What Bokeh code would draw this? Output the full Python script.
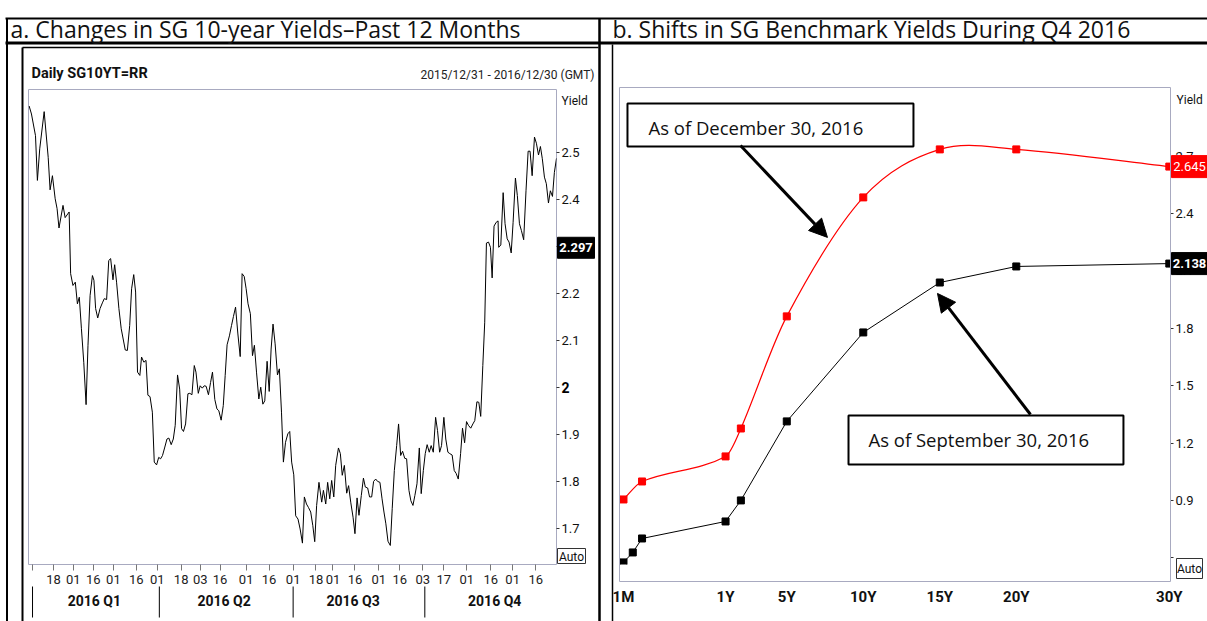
import numpy as np
from bokeh.plotting import figure
from bokeh.layouts import row
from bokeh.models import (Range1d, LinearAxis, FixedTicker, Label, BoxAnnotation,
                          Arrow, NormalHead, GridBox)
from bokeh.embed import file_html
from bokeh.resources import INLINE

NARROW = "Roboto"
BODY = "Open Sans"

# ---------------- panel a data: daily SG 10Y yield (%) ----------------
# trading-day number (0 = 31 Dec 2015) of each observation
sg10y_day = [
    0.0, 1.1, 3.0, 3.9, 5.0, 7.1, 9.0, 9.9, 11.0, 12.3,
    13.2, 14.1, 16.0, 17.0, 18.9, 19.6, 20.7, 21.8, 22.8, 23.7,
    24.7, 25.8, 26.9, 27.8, 28.8, 29.9, 30.6, 31.4, 32.4, 33.5,
    34.6, 35.5, 36.6, 37.6, 38.5, 39.6, 40.4, 41.3, 42.4, 43.5,
    45.4, 46.4, 47.5, 48.4, 49.4, 50.3, 51.2, 52.3, 53.1, 54.2,
    55.2, 56.1, 57.1, 58.2, 59.1, 60.2, 61.2, 62.1, 63.0, 64.1,
    65.1, 66.0, 67.1, 68.1, 69.0, 70.1, 71.1, 72.0, 72.9, 73.9,
    75.0, 75.9, 76.9, 78.0, 78.8, 79.9, 80.8, 81.8, 82.7, 83.6,
    84.7, 85.7, 86.6, 87.7, 88.7, 89.6, 90.7, 91.7, 92.6, 93.5,
    94.6, 95.6, 96.5, 97.5, 98.6, 99.7, 100.6, 101.6, 102.5, 103.4,
    104.5, 105.5, 106.4, 107.4, 108.5, 109.4, 110.4, 111.3, 112.4, 113.4,
    114.3, 115.2, 116.2, 117.3, 118.2, 119.2, 120.1, 121.1, 122.2, 123.1,
    124.0, 125.0, 125.9,
    127.0, 128.0, 129.1, 130.0, 131.0, 131.9, 133.0, 134.0, 134.9, 135.8,
    136.9, 138.2, 139.0, 140.1, 141.0, 142.0, 142.9, 143.9, 144.8, 146.1,
    147.0, 147.9, 148.9, 150.0, 150.9, 151.9, 153.0, 153.9, 154.9, 155.8,
    156.9, 157.9, 158.8, 159.9, 160.8, 161.8, 162.7, 163.7, 164.6, 165.7,
    166.7, 167.6, 168.5, 169.5, 170.6, 171.5, 172.5, 173.6, 174.5, 175.5,
    176.4, 177.4, 178.3, 179.4, 180.3, 181.3, 182.2, 183.2, 184.3, 185.2,
    186.2, 187.1, 188.0, 189.0, 189.9, 190.9, 192.0, 192.9, 193.9, 194.8,
    195.9, 196.8, 197.8, 198.7, 199.8, 200.8, 201.7, 202.7, 203.8, 204.7,
    205.7, 206.6, 207.5, 208.6, 209.6, 210.5, 211.5, 212.4, 213.3, 214.3,
    215.2, 216.0, 217.0, 217.9, 218.7, 219.6, 220.6, 221.5, 221.8, 222.8,
    223.9, 224.8, 225.8, 226.7, 227.7, 228.6, 229.7, 230.6, 231.6, 232.5,
    233.6, 234.7, 235.7, 236.6, 237.6, 238.7, 239.6, 240.6, 241.5, 242.4,
    243.4, 244.3, 245.3, 246.2, 247.2, 248.1, 249.1,
]
sg10y = [
    2.598, 2.581, 2.535, 2.440, 2.507, 2.586, 2.489, 2.420, 2.450, 2.401,
    2.380, 2.339, 2.387, 2.361, 2.373, 2.242, 2.217, 2.224, 2.178, 2.192,
    2.125, 2.054, 1.964, 2.090, 2.196, 2.238, 2.228, 2.168, 2.148, 2.168,
    2.180, 2.189, 2.187, 2.270, 2.274, 2.229, 2.261, 2.224, 2.168, 2.125,
    2.080, 2.079, 2.132, 2.210, 2.240, 2.203, 2.033, 2.026, 2.065, 2.054,
    2.058, 1.984, 1.981, 1.948, 1.842, 1.836, 1.852, 1.849, 1.856, 1.874,
    1.891, 1.893, 1.879, 1.891, 1.920, 2.027, 1.997, 1.913, 1.907, 1.923,
    1.987, 1.988, 1.985, 2.047, 2.033, 1.988, 2.004, 1.999, 2.004, 2.003,
    1.985, 2.011, 2.033, 1.975, 1.955, 1.951, 1.931, 1.962, 2.026, 2.091,
    2.110, 2.132, 2.151, 2.171, 2.114, 2.066, 2.242, 2.236, 2.210, 2.178,
    2.157, 2.068, 2.090, 2.033, 1.976, 2.001, 1.965, 1.972, 2.056, 1.992,
    2.082, 2.135, 2.093, 2.027, 2.040, 1.948, 1.842, 1.884, 1.902, 1.907,
    1.842, 1.815, 1.728,
    1.721, 1.700, 1.670, 1.768, 1.753, 1.746, 1.736, 1.707, 1.673, 1.750,
    1.799, 1.757, 1.782, 1.753, 1.799, 1.764, 1.803, 1.768, 1.835, 1.872,
    1.860, 1.814, 1.835, 1.776, 1.792, 1.757, 1.725, 1.690, 1.766, 1.729,
    1.771, 1.808, 1.789, 1.787, 1.768, 1.768, 1.801, 1.806, 1.801, 1.799,
    1.764, 1.736, 1.711, 1.674, 1.665, 1.743, 1.824, 1.877, 1.923, 1.856,
    1.865, 1.850, 1.849, 1.782, 1.760, 1.750, 1.771, 1.796, 1.872, 1.775,
    1.824, 1.860, 1.879, 1.863, 1.877, 1.863, 1.937, 1.909, 1.863, 1.877,
    1.937, 1.891, 1.863, 1.860, 1.857, 1.824, 1.818, 1.806, 1.860, 1.914,
    1.883, 1.928, 1.920, 1.914, 1.923, 1.930, 1.970, 1.969, 1.939, 2.047,
    2.139, 2.307, 2.309, 2.298, 2.233, 2.343, 2.351, 2.354, 2.298, 2.303,
    2.414, 2.348, 2.316, 2.309, 2.286, 2.351, 2.445, 2.408, 2.348, 2.334,
    2.314, 2.418, 2.502, 2.502, 2.450, 2.532, 2.519, 2.494, 2.512, 2.486,
    2.447, 2.433, 2.392, 2.418, 2.406, 2.457, 2.487,
]
# trading-day number of the date ticks and their labels
date_tick_idx = [11.5, 20.9, 30.3, 39.8, 50.6, 60.5, 71.8, 80.8, 90.2, 102.5,
                 113.3, 124.7, 135.5, 143.5, 153.9, 165.2, 175.1, 185.9, 195.9,
                 206.7, 218.1, 228.4, 239.3]
date_tick_labels = ["18", "01", "16", "01", "16", "01", "18", "03", "16", "01",
                    "16", "01", "18", "01", "16", "01", "16", "03", "17",
                    "01", "16", "01", "16"]
first_day_idx = [1.6]
quarter_mid_idx = [30.8, 92.1, 153.0, 219.9]
quarter_labels = ["2016 Q1", "2016 Q2", "2016 Q3", "2016 Q4"]
quarter_start_idx = [1.6, 61.5, 124.7, 186.9]
left_y_ticks = [1.7, 1.8, 1.9, 2.1, 2.2, 2.3, 2.4, 2.5]
left_bold_tick = 2.0
last_quote = 2.297
left_y_range = (1.6246, 2.633)
left_x_range = (-0.3, 249.1)

# ---------------- panel b data: SG benchmark curve (%) ----------------
sep_tenors = ["1M", "2M", "3M", "1Y", "2Y", "5Y", "10Y", "15Y", "20Y", "30Y"]
sep_yields = [0.576, 0.628, 0.701, 0.790, 0.900, 1.313, 1.778, 2.039, 2.123, 2.138]
dec_tenors = ["1M", "3M", "1Y", "2Y", "5Y", "10Y", "15Y", "20Y", "30Y"]
dec_yields = [0.905, 0.999, 1.130, 1.276, 1.862, 2.484, 2.735, 2.735, 2.645]
tenor_ticks = ["1M", "1Y", "5Y", "10Y", "15Y", "20Y", "30Y"]
right_y_ticks = [0.9, 1.2, 1.5, 1.8, 2.1, 2.4, 2.7]
right_minor = [0.6]
right_y_range = (0.565, 3.048)


def tenor_pos(t):
    """Chart's own tenor scale: monthly up to 1Y, compressed beyond."""
    n = float(t[:-1])
    yrs = n / 12.0 if t.endswith("M") else n
    return yrs * 12.0 if yrs <= 1 else 12.0 + (yrs - 1.0) * 1.649


# page geometry (px)
PW, PH = 1207, 621
LW = 600
RW = PW - LW
TOP, BOT = 89, 564                       # shared frame top / bottom (rows align)
L_LEFT, L_RIGHT = 28, 556
R_LEFT, R_RIGHT = 619, 1170
R_BOX = dict(left=619, right=1170, top=87, bottom=581)   # drawn plot box of panel b


def ly(v):
    lo, hi = left_y_range
    return TOP + (hi - v) / (hi - lo) * (BOT - TOP)


def ry(v):
    lo, hi = right_y_range
    return TOP + (hi - v) / (hi - lo) * (BOT - TOP)


def lx(i):
    lo, hi = left_x_range
    return L_LEFT + (i - lo) / (hi - lo) * (L_RIGHT - L_LEFT)


def axis_style(ax, size="13px", bold=False, color="#111"):
    ax.major_label_text_font = NARROW
    ax.major_label_text_font_size = size
    ax.major_label_text_color = color
    if bold:
        ax.major_label_text_font_style = "bold"


# ---------------- panel a ----------------
L = figure(width=LW, height=PH, title=None, x_range=Range1d(*left_x_range),
           y_range=Range1d(*left_y_range), x_axis_type=None, y_axis_type=None,
           output_backend="svg", toolbar_location=None,
           min_border_left=L_LEFT, min_border_right=LW - L_RIGHT,
           min_border_top=TOP, min_border_bottom=PH - BOT)
L.grid.visible = False
L.outline_line_color = "#a8aac0"
L.line(x=sg10y_day, y=sg10y, line_color="black", line_width=1)

ya = LinearAxis(ticker=FixedTicker(ticks=left_y_ticks, minor_ticks=[left_bold_tick]),
                axis_line_color=None, major_tick_in=0, major_tick_out=3, minor_tick_in=0,
                minor_tick_out=3, major_tick_line_color="#333", minor_tick_line_color="#333",
                major_label_standoff=2)
axis_style(ya)
L.add_layout(ya, "right")
xa = LinearAxis(ticker=FixedTicker(ticks=date_tick_idx, minor_ticks=first_day_idx),
                major_label_overrides=dict(zip(date_tick_idx, date_tick_labels)),
                axis_line_color=None, major_tick_in=0, major_tick_out=6, minor_tick_in=0,
                minor_tick_out=6, major_tick_line_color="#777", minor_tick_line_color="#777",
                major_label_standoff=4)
axis_style(xa, "13px", color="#222")
L.add_layout(xa, "below")
qa = LinearAxis(ticker=FixedTicker(ticks=quarter_mid_idx, minor_ticks=[]),
                major_label_overrides=dict(zip(quarter_mid_idx, quarter_labels)),
                axis_line_color=None, major_tick_in=0, major_tick_out=0, minor_tick_in=0,
                minor_tick_out=0, major_label_standoff=6)
axis_style(qa, "14px", bold=True)
L.add_layout(qa, "below")

# ---------------- panel b ----------------
R = figure(width=RW, height=PH, title=None, x_range=Range1d(0.57, 59.95),
           y_range=Range1d(*right_y_range), x_axis_type=None, y_axis_type=None,
           output_backend="svg", toolbar_location=None,
           min_border_left=R_LEFT - LW, min_border_right=PW - R_RIGHT,
           min_border_top=TOP, min_border_bottom=PH - BOT)
R.grid.visible = False
R.outline_line_color = None

sx = np.array([tenor_pos(t) for t in sep_tenors])
R.line(x=sx, y=sep_yields, line_color="black", line_width=1)
R.scatter(x=sx, y=sep_yields, marker="square", size=7, color="black")

dx = np.array([tenor_pos(t) for t in dec_tenors])
dy = np.array(dec_yields)
slope = np.empty_like(dy)
slope[0] = (dy[1] - dy[0]) / (dx[1] - dx[0])
slope[-1] = (dy[-1] - dy[-2]) / (dx[-1] - dx[-2])
slope[1:-1] = (dy[2:] - dy[:-2]) / (dx[2:] - dx[:-2])
h = (dx[1:] - dx[:-1]) / 3.0
R.bezier(x0=dx[:-1], y0=dy[:-1], x1=dx[1:], y1=dy[1:],
         cx0=dx[:-1] + h, cy0=dy[:-1] + slope[:-1] * h,
         cx1=dx[1:] - h, cy1=dy[1:] - slope[1:] * h,
         line_color="red", line_width=1.2)
R.scatter(x=dx, y=dy, marker="square", size=7, color="red")

tick_pos = [tenor_pos(t) for t in tenor_ticks]
rxa = LinearAxis(ticker=FixedTicker(ticks=tick_pos),
                 major_label_overrides=dict(zip(tick_pos, tenor_ticks)),
                 axis_line_color=None, major_tick_in=0, major_tick_out=0,
                 major_label_standoff=23)
axis_style(rxa, "15px", bold=True)
R.add_layout(rxa, "below")
rya = LinearAxis(ticker=FixedTicker(ticks=right_y_ticks, minor_ticks=right_minor),
                 axis_line_color=None, major_tick_in=0, major_tick_out=3, minor_tick_in=0,
                 minor_tick_out=3, major_tick_line_color="#333", minor_tick_line_color="#333",
                 major_label_standoff=2)
axis_style(rya)
R.add_layout(rya, "right")

# callouts
for left, right, bottom, top in [(1.43, 32.25, 2.750, 2.975), (25.25, 54.88, 1.088, 1.344)]:
    R.add_layout(BoxAnnotation(left=left, right=right, bottom=bottom, top=top,
                               fill_color="white", fill_alpha=1, line_color="black",
                               line_alpha=1, line_width=2))
R.add_layout(Label(x=3.69, y=2.850, text="As of December 30, 2016", text_font=BODY,
                   text_font_size="18.5px", text_baseline="middle", text_color="#111"))
R.add_layout(Arrow(x_start=13.61, y_start=2.755, x_end=22.98, y_end=2.275, line_width=3,
                   line_color="black",
                   end=NormalHead(size=18, fill_color="black", line_color="black")))
R.add_layout(Label(x=27.4, y=1.220, text="As of September 30, 2016", text_font=BODY,
                   text_font_size="18.5px", text_baseline="middle", text_color="#111"))
R.add_layout(Arrow(x_start=44.86, y_start=1.349, x_end=34.84, y_end=1.982, line_width=3,
                   line_color="black",
                   end=NormalHead(size=18, fill_color="black", line_color="black")))

# ---------------- transparent overlay: table rules, titles, axis tags ----------------
ov = figure(width=PW, height=PH, title=None, x_range=Range1d(0, PW), y_range=Range1d(PH, 0),
            x_axis_type=None, y_axis_type=None, output_backend="svg", toolbar_location=None,
            min_border=0, outline_line_color=None, background_fill_color=None,
            border_fill_color=None)
ov.grid.visible = False

rules = dict(x0=[5, 5, 6.5, 599, 22, 22, 612], y0=[18, 42.5, 18, 18, 47, 47, 44],
             x1=[PW, PW, 6.5, 599, 22, 598, 612], y1=[18, 42.5, PH, PH, PH, 47, PH],
             w=[2, 3, 2, 2.5, 2, 1.5, 1.5])
ov.segment(x0=rules["x0"], y0=rules["y0"], x1=rules["x1"], y1=rules["y1"],
           line_color="black", line_width=rules["w"])
# quarter separators under panel a's date axis
sep_x = [lx(i) for i in quarter_start_idx]
ov.segment(x0=sep_x, y0=[586] * 4, x1=sep_x, y1=[617] * 4, line_color="black", line_width=1)
# plot box of panel b
ov.quad(left=R_BOX["left"], right=R_BOX["right"], top=R_BOX["top"], bottom=R_BOX["bottom"],
        fill_color=None, line_color="#a8aac0", line_width=1)


def otext(x, y, text, size, font=NARROW, bold=False, align="left", color="#111",
          baseline="middle"):
    ov.add_layout(Label(x=x, y=y, text=text, text_font=font, text_font_size=size,
                        text_font_style="bold" if bold else "normal", text_align=align,
                        text_baseline=baseline, text_color=color))


otext(10, 28, "a. Changes in SG 10-year Yields\u2013Past 12 Months", "23px", font=BODY)
otext(612, 28, "b. Shifts in SG Benchmark Yields During Q4 2016", "23px", font=BODY)
otext(31, 73, "Daily SG10YT=RR", "14.5px", bold=True)
otext(594, 74, "2015/12/31 - 2016/12/30 (GMT)", "12px", align="right", color="#222")
otext(561, 100, "Yield", "12px")
otext(1176, 99, "Yield", "12px")
otext(561, ly(left_bold_tick), "2", "14px", bold=True, color="#000")

# value tags on the price scales and "Auto" buttons
tag_l = [557, 1171, 1171, 557, 1176]
tag_r = [594, PW, PW, 585, 1202]
tag_c = [ly(last_quote), ry(dec_yields[-1]), ry(sep_yields[-1]), 555.5, 568]
tag_hh = [10.5, 11, 11, 7.5, 10]
tag_fill = ["black", "red", "black", "white", "white"]
tag_line = [None, None, None, "#333", "#333"]
for l, r, c, hh, f, lc in zip(tag_l, tag_r, tag_c, tag_hh, tag_fill, tag_line):
    ov.quad(left=l, right=r, top=c - hh, bottom=c + hh, fill_color=f,
            line_color=lc if lc else f, line_width=1)
otext(575.5, ly(last_quote), f"{last_quote:.3f}", "13px", bold=True, align="center",
      color="white")
otext(1189, ry(dec_yields[-1]), f"{dec_yields[-1]:.3f}", "13px", align="center",
      color="white")
otext(1189, ry(sep_yields[-1]), f"{sep_yields[-1]:.3f}", "13px", bold=True, align="center",
      color="white")
otext(571, 556, "Auto", "12px", align="center")
otext(1189, 568.5, "Auto", "12px", align="center")

page = GridBox(children=[(row(L, R, spacing=0), 0, 0), (ov, 0, 0)])
open("out.html", "w").write(file_html(page, INLINE))
